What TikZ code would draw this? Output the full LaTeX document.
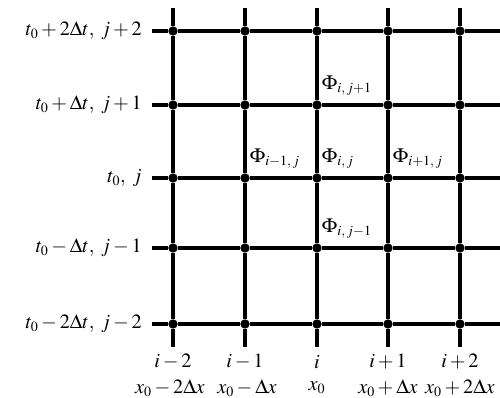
\documentclass[tikz,border=0pt]{standalone}
\usepackage{mathptmx}
\usetikzlibrary{positioning}

\begin{document}
\begin{tikzpicture}[x=0.03cm,y=-0.03cm,
    dot/.style={circle,fill,inner sep=0pt,minimum size=0.28cm},
    gridline/.style={line width=2.8pt},
    phi/.style={anchor=south west,inner sep=0pt,xshift=4pt,yshift=8pt,font=\LARGE},
    tlab/.style={font=\LARGE,inner sep=0pt},
    xlab/.style={font=\LARGE,inner sep=0pt}]
  \useasboundingbox (0,0) rectangle (500,398);
  % grid points
  \foreach \col/\x in {1/173,2/245,3/317,4/388,5/460}{
    \foreach \row/\y in {1/31,2/105,3/178,4/248,5/324}{
      \node[dot] (P\col\row) at (\x,\y) {};
    }
    \coordinate (T\col) at (\x,8);
    \coordinate (B\col) at (\x,347);
  }
  \foreach \row/\y in {1/31,2/105,3/178,4/248,5/324}{
    \coordinate (L\row) at (152,\y);
    \coordinate (R\row) at (500,\y);
  }
  % lines
  \foreach \col in {1,...,5}
    \draw[gridline] (T\col) -- (P\col1) -- (P\col2) -- (P\col3) -- (P\col4) -- (P\col5) -- (B\col);
  \foreach \row in {1,...,5}
    \draw[gridline] (L\row) -- (P1\row) -- (P2\row) -- (P3\row) -- (P4\row) -- (P5\row) -- (R\row);
  % time levels
  \node[tlab,left=0.3cm of L1] (TL1) {$t_0 + 2\Delta t,\; j + 2$};
  \node[tlab,left=0.3cm of L2] (TL2) {$t_0 + \Delta t,\; j + 1$};
  \node[tlab,left=0.3cm of L3] (TL3) {$t_0,\; j$};
  \node[tlab,left=0.3cm of L4] (TL4) {$t_0 - \Delta t,\; j - 1$};
  \node[tlab,left=0.3cm of L5] (TL5) {$t_0 - 2\Delta t,\; j - 2$};
  % space levels
  \node[xlab] (I1) at (173,362) {$i - 2$};
  \node[xlab] (I2) at (245,362) {$i - 1$};
  \node[xlab] (I3) at (317,362) {$i$};
  \node[xlab] (I4) at (388,362) {$i + 1$};
  \node[xlab] (I5) at (460,362) {$i + 2$};
  \node[xlab] (X1) at (170,388) {$x_0 - 2\Delta x$};
  \node[xlab] (X2) at (247,388) {$x_0 - \Delta x$};
  \node[xlab] (X3) at (317,388) {$x_0$};
  \node[xlab] (X4) at (388,388) {$x_0 + \Delta x$};
  \node[xlab] (X5) at (460,388) {$x_0 + 2\Delta x$};
  % values
  \node[phi] (F32) at (P32.center) {$\Phi_{i,\,j+1}$};
  \node[phi] (F23) at (P23.center) {$\Phi_{i-1,\,j}$};
  \node[phi] (F33) at (P33.center) {$\Phi_{i,\,j}$};
  \node[phi] (F43) at (P43.center) {$\Phi_{i+1,\,j}$};
  \node[phi] (F34) at (P34.center) {$\Phi_{i,\,j-1}$};
\end{tikzpicture}
\end{document}
